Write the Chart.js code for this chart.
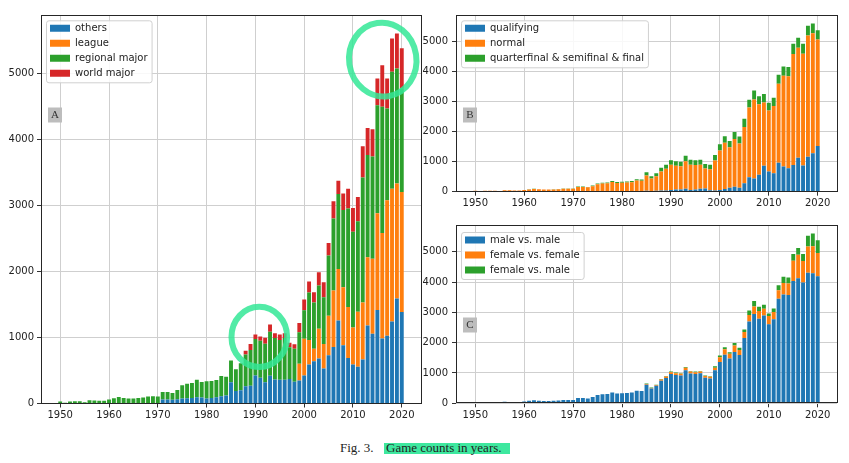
<!DOCTYPE html>
<html><head><meta charset="utf-8">
<script src="https://cdn.jsdelivr.net/npm/chart.js@4"></script>
<style>
html,body{margin:0;padding:0;background:#fff;}
#wrap{position:relative;width:849px;height:463px;overflow:hidden;background:#fff;}
canvas{position:absolute;}
#cA{left:0;top:0;width:424px;height:425px;}
#cB{left:415px;top:0;width:427px;height:212px;}
#cC{left:415px;top:210px;width:427px;height:215px;}
.cap{position:absolute;font-family:'Liberation Serif','Times New Roman',serif;font-size:13px;line-height:13px;color:#222;white-space:nowrap;}
#hl{position:absolute;left:384px;top:443px;width:126px;height:10.5px;background:#3ee89f;}
</style></head>
<body><div id="wrap">
<canvas id="cA" width="424" height="425"></canvas>
<canvas id="cB" width="427" height="212"></canvas>
<canvas id="cC" width="427" height="215"></canvas>
<div id="hl"></div>
<div class="cap" style="left:340px;top:440.6px">Fig. 3.</div>
<div class="cap" style="left:386px;top:440.6px">Game counts in years.</div>
</div>
<script>
const years = [1950,1951,1952,1953,1954,1955,1956,1957,1958,1959,
  1960,1961,1962,1963,1964,1965,1966,1967,1968,1969,
  1970,1971,1972,1973,1974,1975,1976,1977,1978,1979,
  1980,1981,1982,1983,1984,1985,1986,1987,1988,1989,
  1990,1991,1992,1993,1994,1995,1996,1997,1998,1999,
  2000,2001,2002,2003,2004,2005,2006,2007,2008,2009,
  2010,2011,2012,2013,2014,2015,2016,2017,2018,2019,2020];

// Panel A
const othersA = [0,0,0,0,0,0,0,0,0,0, 0,0,0,0,0,0,0,0,0,0,
  0,60,60,55,65,75,80,85,95,90,
  75,85,95,110,120,320,190,200,260,270,
  425,390,320,420,365,360,360,370,330,350,
  425,590,640,680,530,730,855,1255,880,690,
  590,555,665,1180,1055,1415,985,1025,1240,1590,1385];
const leagueA = [0,0,0,0,0,0,0,0,0,0, 0,0,0,0,0,0,0,0,0,0,
  0,0,0,0,0,0,0,0,0,0, 0,0,0,0,0,0,0,0,0,0,
  0,0,0,0,0,0,0,0,0,250,
  555,370,190,450,370,600,855,780,880,770,
  560,835,865,1035,1135,1465,1595,2050,2010,1740,1815];
const regionalMajorA = [30,10,30,35,35,20,50,45,40,40,
  60,80,100,85,75,75,85,90,105,110,
  105,115,115,105,140,200,220,225,265,235,
  260,255,260,305,285,330,328,410,480,540,
  550,560,585,665,625,600,630,480,500,480,
  430,720,700,655,710,910,1090,1135,1170,1490,
  1450,1370,1890,1545,1550,1635,1910,1390,1770,1740,1570];
const worldMajorA = [0,0,0,0,0,0,0,0,0,0, 0,0,0,0,0,0,0,0,0,0,
  0,0,0,0,0,0,0,0,0,0, 0,0,0,0,0,0,0,0,60,90,
  70,65,90,110,75,85,75,70,65,140,
  165,165,155,200,225,190,260,200,250,300,
  360,365,475,410,410,405,630,455,505,530,605];

// Panel B
const qualifyingB = [0,0,0,0,0,0,0,0,0,0, 0,0,0,0,0,0,0,0,0,0,
  0,0,0,0,0,0,0,0,0,0, 0,0,0,0,0,30,20,30,40,40,
  60,75,70,100,60,70,100,110,50,40,
  55,90,130,165,135,280,480,440,560,860,
  670,610,965,835,780,890,1130,870,1165,1280,1520];
const normalB = [30,10,30,35,35,20,50,45,40,40,
  55,75,90,80,70,70,75,80,95,100,
  95,160,160,145,185,250,270,280,320,290,
  300,305,315,370,365,510,418,480,630,720,
  835,790,775,915,835,815,795,660,695,1000,
  1320,1535,1345,1590,1470,1870,2320,2630,2350,2110,
  2030,2245,2630,3025,3060,3690,3660,3720,4030,3990,3545];
const finalsB = [0,0,0,0,0,0,0,0,0,0,
  5,5,10,5,5,5,10,10,10,10,
  10,15,15,15,20,25,30,30,40,35,
  35,35,40,45,40,110,80,100,130,140,
  150,150,150,180,170,160,170,150,150,180,
  200,220,210,230,230,280,260,300,270,280,
  260,270,300,310,310,340,330,330,330,330,310];

// Panel C
const maleMaleC = [30,10,30,35,35,20,50,45,40,40,
  60,80,100,85,75,75,85,90,105,110,
  105,175,175,160,205,275,300,310,360,325,
  335,340,355,415,405,610,488,575,745,835,
  965,935,920,1090,985,965,990,840,820,1090,
  1360,1600,1475,1690,1595,2155,2695,2945,2790,2895,
  2605,2770,3450,3590,3570,4035,4120,3985,4305,4290,4190];
const femaleFemaleC = [0,0,0,0,0,0,0,0,0,0, 0,0,0,0,0,0,0,0,0,0,
  0,0,0,0,0,0,0,0,0,0, 0,0,0,0,0,30,20,25,40,50,
  60,60,55,80,60,60,55,60,55,80,
  160,180,155,220,165,200,220,245,255,220,
  275,245,280,380,380,665,780,710,865,890,765];
const femaleMaleC = [0,0,0,0,0,0,0,0,0,0, 0,0,0,0,0,0,0,0,0,0,
  0,0,0,0,0,0,0,0,0,0, 0,0,0,0,0,10,10,10,15,15,
  20,20,20,25,20,20,20,20,20,50,
  55,65,55,75,75,75,145,180,135,135,
  80,110,165,200,200,220,220,225,355,420,420];

const labelsA = ['others','league','regional major','world major'];
const labelsB = ['qualifying','normal','quarterfinal & semifinal & final'];
const labelsC = ['male vs. male','female vs. female','female vs. male'];
const xTicks = [1950,1960,1970,1980,1990,2000,2010,2020];
const yTicks = [0,1000,2000,3000,4000,5000];

const COLORS = ['#1f77b4','#ff7f0e','#2ca02c','#d62728'];
Chart.defaults.font.family = "'DejaVu Sans', sans-serif";
Chart.defaults.font.size = 10;
Chart.defaults.color = '#222';

function drawLegendBg(chart, lg) {
  const ctx = chart.ctx; const items = lg.legendItems || [];
  ctx.save();
  ctx.font = "10px 'DejaVu Sans'";
  let maxW = 0;
  items.forEach(it => { maxW = Math.max(maxW, ctx.measureText(it.text).width); });
  const x0 = lg.left + 1.5, y0 = lg.top + 2.5;
  const w = 3.5 + 20 + 5 + maxW + 4.5;
  const h = 7.5 + (items.length - 1) * 15 + 9.5;
  const r = 2.5;
  ctx.beginPath();
  ctx.moveTo(x0 + r, y0);
  ctx.arcTo(x0 + w, y0, x0 + w, y0 + h, r);
  ctx.arcTo(x0 + w, y0 + h, x0, y0 + h, r);
  ctx.arcTo(x0, y0 + h, x0, y0, r);
  ctx.arcTo(x0, y0, x0 + w, y0, r);
  ctx.closePath();
  ctx.fillStyle = 'rgba(255,255,255,0.85)';
  ctx.fill();
  ctx.strokeStyle = '#d0d0d0';
  ctx.lineWidth = 1;
  ctx.stroke();
  ctx.restore();
}

const legendShift = {
  id: 'legendShift',
  afterLayout(chart, args, o) {
    const lg = chart.legend; if (!lg) return;
    const a = chart.chartArea;
    const w = lg.width, h = lg.height;
    lg.left = a.left + o.dx; lg.right = lg.left + w;
    lg.top = a.top + o.dy; lg.bottom = a.bottom;
    if (!lg._bgWrapped) {
      const orig = lg.draw;
      lg.draw = function (ca) { drawLegendBg(chart, this); return orig.call(this, ca); };
      lg._bgWrapped = true;
    }
  }
};

const frame = {
  id: 'frame',
  afterDatasetsDraw(chart) {
    const a = chart.chartArea, ctx = chart.ctx;
    ctx.save();
    ctx.strokeStyle = '#262626'; ctx.lineWidth = 1;
    ctx.strokeRect(Math.round(a.left) + 0.5, Math.round(a.top) + 0.5,
      Math.round(a.right) - Math.round(a.left), Math.round(a.bottom) - Math.round(a.top) - 1);
    ctx.restore();
  }
};

const panelTag = {
  id: 'panelTag',
  afterDatasetsDraw(chart, args, o) {
    if (!o.text) return;
    const a = chart.chartArea, ctx = chart.ctx;
    const cx = a.left + o.dx, cy = a.top + o.dy;
    ctx.save();
    ctx.fillStyle = '#bdbdbd';
    ctx.fillRect(cx - 7, cy - 7.5, 14, 15);
    ctx.fillStyle = '#333';
    ctx.font = "11px 'Liberation Serif'";
    ctx.textAlign = 'center'; ctx.textBaseline = 'middle';
    ctx.fillText(o.text, cx, cy + 0.5);
    ctx.restore();
  }
};

const marks = {
  id: 'marks',
  afterDraw(chart, args, o) {
    if (!o.items) return;
    const ctx = chart.ctx, xs = chart.scales.x, ys = chart.scales.y;
    ctx.save();
    ctx.strokeStyle = 'rgba(52,232,150,0.85)';
    ctx.lineWidth = 6;
    o.items.forEach(m => {
      const cx = xs.getPixelForValue(m.year), cy = ys.getPixelForValue(m.value);
      const rx = Math.abs(xs.getPixelForValue(m.year + m.dYear) - cx);
      const ry = Math.abs(ys.getPixelForValue(m.value + m.dValue) - cy);
      ctx.beginPath();
      ctx.ellipse(cx, cy, rx, ry, m.rot || 0, 0, Math.PI * 2);
      ctx.stroke();
    });
    ctx.restore();
  }
};

function makeChart(id, series, labels, cfg) {
  return new Chart(document.getElementById(id), {
    type: 'bar',
    data: {
      labels: years,
      datasets: series.map((s, i) => ({
        label: labels[i], data: s, backgroundColor: COLORS[i], borderWidth: 0,
        barPercentage: 0.8, categoryPercentage: 1.0
      }))
    },
    options: {
      responsive: false, animation: false, devicePixelRatio: 1,
      layout: { padding: { left: 0, right: cfg.padRight, top: cfg.padTop, bottom: 0 } },
      scales: {
        x: {
          type: 'linear', stacked: true, offset: false, min: 1946.06, max: 2023.94,
          afterBuildTicks: s => { s.ticks = xTicks.map(v => ({ value: v })); },
          afterFit: s => { s.height = cfg.xh; },
          grid: { offset: false, color: '#cfcfcf', lineWidth: 1, tickLength: 4, tickColor: '#333', z: -1 },
          border: { display: false },
          ticks: { padding: 2, maxRotation: 0, autoSkip: false, callback: v => String(v) }
        },
        y: {
          stacked: true, min: 0, max: 5880,
          afterBuildTicks: s => { s.ticks = yTicks.map(v => ({ value: v })); },
          afterFit: s => { s.width = 41; },
          grid: { color: '#cfcfcf', lineWidth: 1, tickLength: 4, tickColor: '#333', z: -1 },
          border: { display: false },
          ticks: { padding: cfg.yPad, callback: v => String(v) }
        }
      },
      plugins: {
        legend: {
          position: 'chartArea', align: 'start',
          labels: { boxWidth: 20, boxHeight: 7, padding: 5, font: { size: 10 }, color: '#222' }
        },
        tooltip: { enabled: false },
        legendShift: { dx: 4, dy: cfg.legDy },
        panelTag: { text: cfg.tag, dx: 14, dy: 100 },
        marks: { items: cfg.marks }
      }
    },
    plugins: [legendShift, frame, panelTag, marks]
  });
}

makeChart('cA', [othersA, leagueA, regionalMajorA, worldMajorA], labelsA,
  { padRight: 3, padTop: 15, xh: 21.5, yPad: 3, legDy: 3.3, tag: 'A',
    marks: [ { year: 1990.8, value: 1008, dYear: 5.7, dValue: 455 },
             { year: 2016.1, value: 5205, dYear: 6.9, dValue: 560, rot: -0.15 } ] });
makeChart('cB', [qualifyingB, normalB, finalsB], labelsB,
  { padRight: 5, padTop: 15, xh: 20.3, yPad: 4, legDy: 3.3, tag: 'B', marks: null });
makeChart('cC', [maleMaleC, femaleFemaleC, femaleMaleC], labelsC,
  { padRight: 5, padTop: 15, xh: 21.7, yPad: 4, legDy: 5, tag: 'C', marks: null });
</script>
</body></html>
